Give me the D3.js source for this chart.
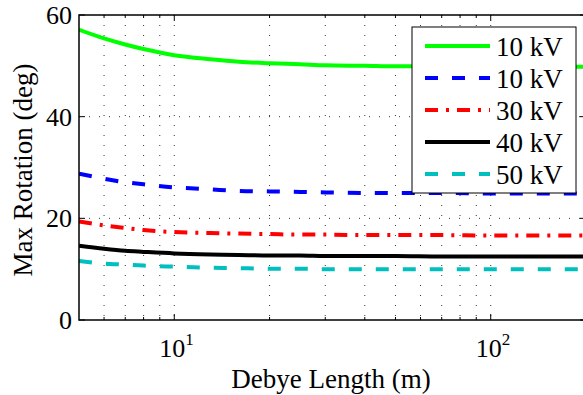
<!DOCTYPE html>
<html><head><meta charset="utf-8">
<script src="https://cdn.jsdelivr.net/npm/d3@7"></script>
<style>body{margin:0;background:#fff}svg{display:block}text{font-family:"Liberation Serif","Times New Roman",serif;fill:#000}</style>
</head><body><svg id="c" width="583" height="395"></svg>
<script>
const debye = [5, 6, 7, 8, 10, 13, 16, 20, 25, 30, 40, 50, 70, 100, 140, 200];
const s10a = [57.1, 55.4, 54.2, 53.3, 52.1, 51.3, 50.8, 50.5, 50.3, 50.1, 50.0, 49.9, 49.9, 49.8, 49.8, 49.8];
const s10b = [28.8, 27.8, 27.1, 26.7, 26.1, 25.7, 25.4, 25.3, 25.2, 25.1, 25.0, 25.0, 25.0, 24.9, 24.9, 24.9];
const s30 = [19.4, 18.6, 18.1, 17.7, 17.3, 17.1, 17.0, 16.9, 16.8, 16.8, 16.7, 16.7, 16.7, 16.6, 16.6, 16.6];
const s40 = [14.6, 14.0, 13.6, 13.4, 13.1, 12.9, 12.8, 12.7, 12.7, 12.6, 12.6, 12.6, 12.5, 12.5, 12.5, 12.5];
const s50 = [11.6, 11.1, 10.9, 10.7, 10.5, 10.3, 10.2, 10.1, 10.1, 10.0, 10.0, 10.0, 10.0, 10.0, 10.0, 10.0];
const names = ["10 kV", "10 kV", "30 kV", "40 kV", "50 kV"];
const colors = ["#00ff00", "#0000ff", "#ff0000", "#000000", "#00bfbf"];
const dashes = [null, "13,14", "13,8,3,8", null, "13,14"];
const yTicks = [0, 20, 40, 60];
const xMajor = [10, 100];
const xMinor = [6, 7, 8, 9, 20, 30, 40, 50, 60, 70, 80, 90, 200];
const series = [s10a, s10b, s30, s40, s50];

const svg = d3.select("#c");
const L = 79, R = 586, T = 15, B = 320;
const x = d3.scaleLog().domain([5, 200]).range([L, R]);
const y = d3.scaleLinear().domain([0, 60]).range([B, T]);

// grid
const g = svg.append("g");
g.selectAll(".vg").data(xMajor.concat(xMinor)).enter().append("line")
  .attr("x1", d => x(d)).attr("x2", d => x(d)).attr("y1", T).attr("y2", B)
  .attr("stroke", "#333").attr("stroke-width", 1).attr("stroke-dasharray", "1,9");
g.selectAll(".hg").data([20, 40]).enter().append("line")
  .attr("x1", L).attr("x2", R).attr("y1", d => y(d)).attr("y2", d => y(d))
  .attr("stroke", "#333").attr("stroke-width", 1).attr("stroke-dasharray", "1,9");

// lines
const line = d3.line().x((d, i) => x(debye[i])).y(d => y(d)).curve(d3.curveMonotoneX);
svg.append("clipPath").attr("id", "clp").append("rect").attr("x", L).attr("y", T).attr("width", R - L).attr("height", B - T);
series.forEach((s, i) => {
  svg.append("path").attr("d", line(s)).attr("fill", "none").attr("stroke", colors[i])
    .attr("stroke-width", 4).attr("stroke-dasharray", dashes[i]).attr("clip-path", "url(#clp)");
});

// frame
svg.append("rect").attr("x", L).attr("y", T).attr("width", R - L).attr("height", B - T)
  .attr("fill", "none").attr("stroke", "#000").attr("stroke-width", 1.5);

// ticks
const tk = svg.append("g").attr("stroke", "#000");
xMajor.forEach(d => {
  tk.append("line").attr("x1", x(d)).attr("x2", x(d)).attr("y1", B).attr("y2", B - 6);
  tk.append("line").attr("x1", x(d)).attr("x2", x(d)).attr("y1", T).attr("y2", T + 6);
});
xMinor.forEach(d => {
  tk.append("line").attr("x1", x(d)).attr("x2", x(d)).attr("y1", B).attr("y2", B - 3);
  tk.append("line").attr("x1", x(d)).attr("x2", x(d)).attr("y1", T).attr("y2", T + 3);
});
yTicks.forEach(d => {
  tk.append("line").attr("x1", L).attr("x2", L + 6).attr("y1", y(d)).attr("y2", y(d));
  tk.append("line").attr("x1", R).attr("x2", R - 6).attr("y1", y(d)).attr("y2", y(d));
});

// tick labels
svg.selectAll(".yl").data(yTicks).enter().append("text")
  .attr("x", L - 7).attr("y", d => y(d) + 9).attr("text-anchor", "end")
  .attr("font-size", 26).text(d => d);
xMajor.forEach(d => {
  const t = svg.append("text").attr("x", x(d) - 15).attr("y", 357).attr("font-size", 26);
  t.append("tspan").text("10");
  t.append("tspan").attr("dy", -12).attr("font-size", 17).text(Math.round(Math.log10(d)));
});

// axis titles
svg.append("text").attr("x", 331).attr("y", 388).attr("text-anchor", "middle").attr("font-size", 27).text("Debye Length (m)");
svg.append("text").attr("transform", "translate(32,170) rotate(-90)").attr("text-anchor", "middle").attr("font-size", 27).text("Max Rotation (deg)");

// legend
const lg = svg.append("g");
lg.append("rect").attr("x", 412).attr("y", 27).attr("width", 164).attr("height", 166)
  .attr("fill", "#fff").attr("stroke", "#000").attr("stroke-width", 1);
names.forEach((n, i) => {
  const yy = 46 + i * 32;
  lg.append("line").attr("x1", 425).attr("x2", 490).attr("y1", yy).attr("y2", yy)
    .attr("stroke", colors[i]).attr("stroke-width", 4).attr("stroke-dasharray", dashes[i]);
  lg.append("text").attr("x", 496).attr("y", yy + 10).attr("font-size", 27).text(n);
});
</script></body></html>
